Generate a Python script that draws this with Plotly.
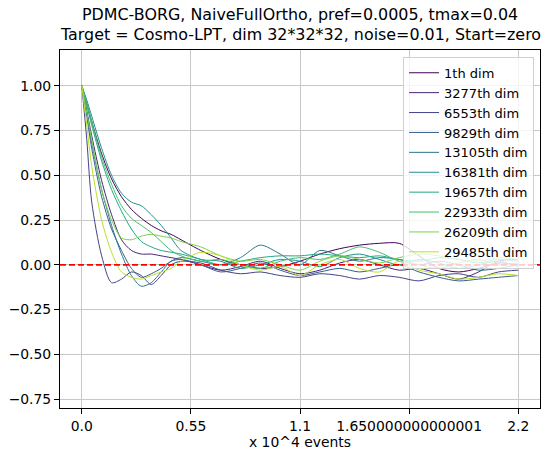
import plotly.graph_objects as go

x = [0, 0.025, 0.05, 0.1, 0.15, 0.2, 0.25, 0.3, 0.35, 0.4, 0.45, 0.5, 0.6, 0.7, 0.8, 0.9,
     1.0, 1.1, 1.2, 1.3, 1.4, 1.5, 1.6, 1.7, 1.8, 1.9, 2.0, 2.1, 2.2]

names = ["1th dim", "3277th dim", "6553th dim", "9829th dim", "13105th dim",
         "16381th dim", "19657th dim", "22933th dim", "26209th dim", "29485th dim"]

colors = ["#440154", "#482475", "#414487", "#355f8d", "#2a788e",
          "#21918c", "#22a884", "#44bf70", "#7ad151", "#bddf26"]

s1 = [1.0, 0.90, 0.80, 0.62, 0.48, 0.38, 0.31, 0.26, 0.22, 0.19, 0.17, 0.14, 0.08, 0.03, 0.0, -0.02,
      -0.01, 0.02, 0.06, 0.09, 0.11, 0.12, 0.12, 0.05, -0.02, -0.04, -0.02, 0.01, 0.0]
s2 = [1.0, 0.86, 0.72, 0.47, 0.28, 0.14, 0.08, 0.06, 0.06, 0.05, 0.04, 0.03, 0.0, -0.03, -0.01, 0.02,
      -0.02, -0.05, -0.03, 0.01, 0.03, 0.0, -0.03, -0.02, -0.05, -0.08, -0.04, 0.02, 0.03]
s3 = [1.0, 0.70, 0.35, 0.05, -0.10, -0.08, -0.04, -0.06, -0.11, -0.06, 0.0, 0.02, 0.01, -0.03, -0.05, -0.04,
      -0.06, -0.07, -0.05, -0.06, -0.08, -0.06, -0.07, -0.09, -0.06, -0.05, -0.07, -0.04, -0.03]
s4 = [1.0, 0.83, 0.65, 0.38, 0.20, 0.08, -0.02, -0.07, -0.05, -0.02, 0.02, 0.03, 0.0, -0.04, -0.02, 0.01,
      -0.03, -0.06, -0.04, -0.02, -0.04, -0.02, 0.0, -0.04, -0.07, -0.09, -0.08, -0.07, -0.06]
s5 = [1.0, 0.85, 0.68, 0.42, 0.22, 0.06, -0.06, -0.12, -0.10, -0.04, 0.02, 0.04, 0.02, 0.0, 0.04, 0.11,
      0.06, 0.0, 0.08, 0.05, 0.02, 0.04, 0.03, 0.0, 0.02, 0.0, -0.03, -0.02, 0.0]
s6 = [1.0, 0.92, 0.83, 0.65, 0.50, 0.40, 0.35, 0.33, 0.28, 0.22, 0.15, 0.08, 0.03, 0.02, -0.02, 0.0,
      0.03, 0.02, -0.01, 0.04, 0.06, 0.03, 0.0, 0.03, 0.01, -0.02, 0.0, 0.02, -0.01]
s7 = [1.0, 0.89, 0.78, 0.58, 0.42, 0.30, 0.20, 0.13, 0.10, 0.08, 0.07, 0.06, 0.03, 0.0, 0.02, 0.04,
      0.05, 0.05, 0.06, 0.05, 0.04, 0.05, 0.03, 0.02, 0.04, 0.03, 0.01, 0.03, 0.02]
s8 = [1.0, 0.90, 0.80, 0.60, 0.45, 0.33, 0.26, 0.22, 0.18, 0.13, 0.08, 0.05, 0.02, 0.03, 0.0, -0.02,
      0.02, 0.04, 0.03, 0.06, 0.10, 0.07, 0.02, 0.0, -0.02, 0.01, 0.03, 0.0, 0.01]
s9 = [1.0, 0.85, 0.70, 0.42, 0.25, 0.15, 0.14, 0.16, 0.17, 0.16, 0.15, 0.13, 0.10, 0.05, 0.02, 0.03,
      0.0, -0.03, 0.02, 0.05, 0.03, 0.01, 0.04, 0.06, 0.05, 0.03, 0.02, 0.04, 0.03]
s10 = [1.0, 0.78, 0.55, 0.25, 0.07, -0.04, -0.07, -0.08, -0.06, -0.04, -0.02, 0.02, 0.07, 0.05, 0.0, -0.03,
       -0.01, -0.06, 0.0, 0.03, -0.02, -0.04, 0.02, -0.03, -0.05, -0.08, -0.07, -0.05, -0.06]

series = [s1, s2, s3, s4, s5, s6, s7, s8, s9, s10]

title_lines = ["PDMC-BORG, NaiveFullOrtho, pref=0.0005, tmax=0.04",
               "Target = Cosmo-LPT, dim 32*32*32, noise=0.01, Start=zero"]

xtick_vals = [0.0, 0.55, 1.1, 1.65, 2.2]
xtick_text = ["0.0", "0.55", "1.1", "1.650000000000001", "2.2"]
ytick_vals = [-0.75, -0.5, -0.25, 0.0, 0.25, 0.5, 0.75, 1.0]
ytick_text = ["\u22120.75", "\u22120.50", "\u22120.25", "0.00", "0.25", "0.50", "0.75", "1.00"]

FONT = "DejaVu Sans"

fig = go.Figure()
for name, col, ys in zip(names, colors, series):
    fig.add_trace(go.Scatter(x=x, y=ys, mode="lines", name=name,
                             line=dict(color=col, width=1, shape="spline", smoothing=0.8)))

fig.add_shape(type="line", xref="paper", yref="y", x0=0, x1=1, y0=0, y1=0,
              line=dict(color="#ff0000", width=1.8, dash="6px,3px"), layer="above")

# two-line title as annotations (paper coords relative to plot area 50..412 px)
for txt, py in zip(title_lines, [14, 34]):
    fig.add_annotation(text=txt, xref="paper", yref="paper", x=0.5, y=(412 - py) / 362,
                       xanchor="center", yanchor="middle", showarrow=False,
                       font=dict(size=15.9, family=FONT, color="black"))

fig.update_layout(
    width=550, height=456,
    margin=dict(l=58, r=9, t=50, b=44),
    paper_bgcolor="white", plot_bgcolor="white",
    font=dict(family=FONT, size=13.9, color="black"),
    legend=dict(x=0.9876, xanchor="right", y=0.981, yanchor="top",
                bgcolor="rgba(255,255,255,0.8)", bordercolor="#d0d0d0", borderwidth=1,
                font=dict(size=13, family=FONT, color="black")),
    showlegend=True,
)

fig.update_xaxes(range=[-0.11, 2.31], tickmode="array", tickvals=xtick_vals, ticktext=xtick_text,
                 showgrid=True, gridcolor="#c8c8c8", gridwidth=1, zeroline=False,
                 showline=True, linecolor="black", linewidth=1, mirror=True,
                 ticks="outside", ticklen=5, tickcolor="black",
                 title=dict(text="x 10^4 events", standoff=4, font=dict(size=13.9)))
fig.update_yaxes(range=[-0.8, 1.2], tickmode="array", tickvals=ytick_vals, ticktext=ytick_text,
                 showgrid=True, gridcolor="#c8c8c8", gridwidth=1, zeroline=False,
                 showline=True, linecolor="black", linewidth=1, mirror=True,
                 ticks="outside", ticklen=5, tickcolor="black")

fig.write_html("out.html")
